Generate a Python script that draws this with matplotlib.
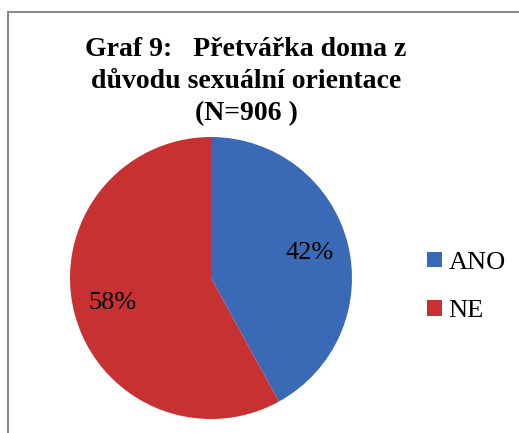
import matplotlib
matplotlib.use("Agg")
import matplotlib.pyplot as plt
from matplotlib.patches import Rectangle

categories = ["ANO", "NE"]
values = [42, 58]
colors = ["#3A6AB6", "#C83131"]
title = "Graf 9:   Přetvářka doma z\ndůvodu sexuální orientace\n(N=906 )"

plt.rcParams['font.family'] = ['Liberation Serif', 'DejaVu Serif']

fig = plt.figure(figsize=(5.19, 4.33), dpi=100)

# border
fig.patches.append(Rectangle((8/519, -0.05), 1.2, 1 - 12/433 + 0.05,
                             transform=fig.transFigure, fill=False,
                             edgecolor="#8c8c8c", linewidth=1.5))

ax = fig.add_axes([70/519, 14/433, 282/519, 282/433])
wedges, texts, autotexts = ax.pie(values, colors=colors, startangle=90, counterclock=False,
                                  autopct='%d%%', pctdistance=0.72,
                                  textprops=dict(fontsize=19, color='black'),
                                  radius=1)
ax.set_xlim(-1, 1)
ax.set_ylim(-1, 1)
ax.set_aspect('auto')

fig.text(246/519, 1 - 82/433, title, ha='center', va='center', fontsize=20,
         fontweight='bold', linespacing=1.37)

leg = fig.legend(wedges, categories, loc='center left', bbox_to_anchor=(414/519, 1 - 287/433),
                 frameon=False, fontsize=19, handlelength=0.55, handleheight=0.55,
                 handletextpad=0.25, labelspacing=1.0, borderpad=0)

fig.savefig("out.png", dpi=100)
